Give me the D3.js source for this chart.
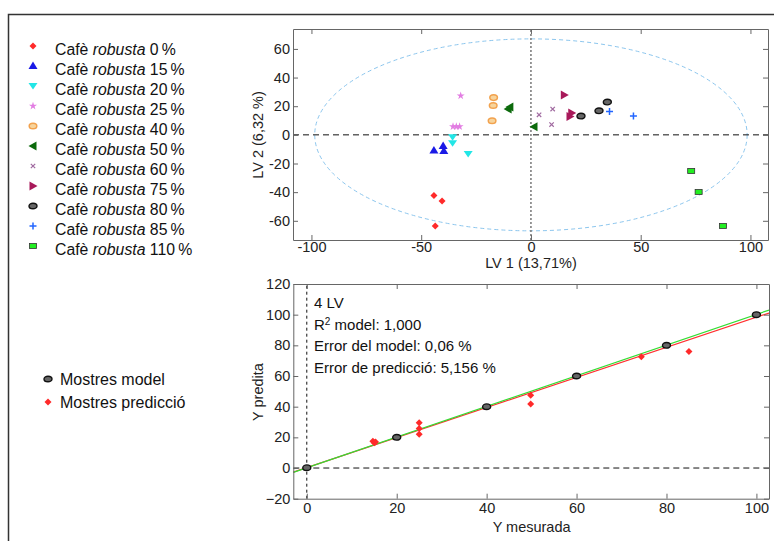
<!DOCTYPE html>
<html>
<head>
<meta charset="utf-8">
<script src="https://cdn.jsdelivr.net/npm/d3@7"></script>
<style>
  body { margin: 0; background: #fff; }
  svg { font-family: "Liberation Sans", Arial, sans-serif; }
</style>
</head>
<body>
<div id="SVG_CONTAINER"></div>
<script>
// groups of the score plot (percentage of robusta)
const groupPct = ["0", "15", "20", "25", "40", "50", "60", "75", "80", "85", "110"];
const groupMarker = ["diamond", "triUp", "triDown", "star", "ring", "triLeft", "cross", "triRight", "ellipse", "plus", "square"];
const groupColor = ["#ff2a2a", "#1a1ae6", "#22e6e6", "#e27de2", "#f2a24e", "#0c6a0c", "#a06aa0", "#a8195a", "#2a2a2a", "#2266ff", "#22ee22"];

// LV1 / LV2 scores, one list per group
const lv1 = [
    [-44.2, -40.5, -43.6],
    [-44.2, -40.0, -39.7],
    [-35.7, -35.7, -28.6],
    [-32.0, -35.5, -34.0, -32.5],
    [-17.0, -17.2, -17.7],
    [-9.6, -10.4, 1.4],
    [3.7, 9.9, 9.4],
    [15.2, 18.6, 17.8],
    [34.8, 31.0, 22.8],
    [35.8, 46.7],
    [73.0, 76.4, 87.5]
];
const lv2 = [
    [-42.4, -46.2, -63.6],
    [-11.0, -7.7, -11.2],
    [-1.6, -5.8, -13.3],
    [27.3, 5.8, 5.8, 5.8],
    [26.0, 20.5, 9.8],
    [19.4, 18.0, 5.6],
    [14.0, 18.0, 7.2],
    [27.8, 15.2, 12.8],
    [22.9, 16.8, 13.1],
    [16.3, 13.1],
    [-25.2, -39.9, -63.6]
];
// confidence ellipse radii (LV1, LV2)
const ellipseR = [98.5, 67];

// prediction plot
const modelMeasured = [0, 20, 40, 60, 80, 100];
const modelPredicted = [0.2, 20, 40, 60, 80, 100];
const predMeasured = [14.7, 15.0, 15.3, 25, 25, 25, 49.8, 49.8, 74.4, 85];
const predPredicted = [17.5, 16.5, 17.0, 29.5, 25.8, 22.1, 47.5, 41.7, 72.5, 76.0];
const fitModel = { slope: 1.0, intercept: 0.2 };   // green
const fitPred = { slope: 0.98, intercept: 0.3 };   // red
const infoLines = ["4 LV", "R2 model: 1,000", "Error del model: 0,06 %", "Error de predicció: 5,156 %"];

const width = 774, height = 541;

const svg = d3.select("#SVG_CONTAINER")
    .append("svg")
    .attr("width", width)
    .attr("height", height);

// outer frame
svg.append("rect")
    .attr("x", 8.5).attr("y", 14.5)
    .attr("width", 800).attr("height", 600)
    .attr("fill", "none")
    .attr("stroke", "#333")
    .attr("stroke-width", 1.5);

// draws one marker of the given type at (cx, cy)
function marker(g, type, color, cx, cy) {
    let s;
    if (type === "diamond") {
        s = g.append("path").attr("d", "M0,-3.5L3.5,0L0,3.5L-3.5,0Z").attr("fill", color);
    } else if (type === "triUp") {
        s = g.append("path").attr("d", "M0,-4.5L4.5,3L-4.5,3Z").attr("fill", color);
    } else if (type === "triDown") {
        s = g.append("path").attr("d", "M0,3.5L4.5,-3L-4.5,-3Z").attr("fill", color);
    } else if (type === "triLeft") {
        s = g.append("path").attr("d", "M-4.5,0L3.5,-4.5L3.5,4.5Z").attr("fill", color);
    } else if (type === "triRight") {
        s = g.append("path").attr("d", "M4.5,0L-3.5,-4.5L-3.5,4.5Z").attr("fill", color);
    } else if (type === "star") {
        s = g.append("path").attr("d", d3.symbol().type(d3.symbolStar).size(20)()).attr("fill", color);
    } else if (type === "ring") {
        s = g.append("ellipse").attr("rx", 3.8).attr("ry", 2.8)
            .attr("fill", "#f7d49c").attr("stroke", color).attr("stroke-width", 1.5);
    } else if (type === "ellipse") {
        s = g.append("ellipse").attr("rx", 4).attr("ry", 2.8)
            .attr("fill", "#666").attr("stroke", "#111").attr("stroke-width", 1.4);
    } else if (type === "cross") {
        s = g.append("path").attr("d", "M-2.2,-2.2L2.2,2.2M-2.2,2.2L2.2,-2.2")
            .attr("stroke", color).attr("stroke-width", 1.2).attr("fill", "none");
    } else if (type === "plus") {
        s = g.append("path").attr("d", "M-3.5,0L3.5,0M0,-3.5L0,3.5")
            .attr("stroke", color).attr("stroke-width", 1.5).attr("fill", "none");
    } else if (type === "square") {
        s = g.append("rect").attr("x", -3.5).attr("y", -2.5).attr("width", 7).attr("height", 5)
            .attr("fill", color).attr("stroke", "#333").attr("stroke-width", 0.8);
    }
    s.attr("transform", "translate(" + cx + "," + cy + ")");
}

// draws a MATLAB style box with inward ticks on every side
function box(g, x, y, xTicks, yTicks, pad, fmt) {
    const [x0, x1] = x.range();
    const [y0, y1] = y.range();
    const tl = 5;
    g.append("g")
        .attr("transform", "translate(0," + y0 + ")")
        .call(d3.axisBottom(x).tickValues(xTicks).tickSizeInner(-tl).tickSizeOuter(0).tickPadding(pad).tickFormat(fmt));
    g.append("g")
        .attr("transform", "translate(0," + y1 + ")")
        .call(d3.axisTop(x).tickValues(xTicks).tickSizeInner(-tl).tickSizeOuter(0).tickFormat(""));
    g.append("g")
        .attr("transform", "translate(" + x0 + ",0)")
        .call(d3.axisLeft(y).tickValues(yTicks).tickSizeInner(-tl).tickSizeOuter(0).tickPadding(3).tickFormat(fmt));
    g.append("g")
        .attr("transform", "translate(" + x1 + ",0)")
        .call(d3.axisRight(y).tickValues(yTicks).tickSizeInner(-tl).tickSizeOuter(0).tickFormat(""));
    g.selectAll(".domain").attr("stroke", "#666");
    g.selectAll(".tick line").attr("stroke", "#666");
    g.selectAll(".tick text")
        .attr("font-size", "14.5px")
        .attr("fill", "#222")
        .attr("font-family", "Liberation Sans, Arial, sans-serif");
}

// ---------- score plot ----------
const xs1 = d3.scaleLinear().domain([-108.4, 108]).range([293, 768]);
const ys1 = d3.scaleLinear().domain([-73.4, 73.9]).range([240, 29]);
const topG = svg.append("g");

topG.append("ellipse")
    .attr("cx", xs1(0)).attr("cy", ys1(0))
    .attr("rx", xs1(ellipseR[0]) - xs1(0))
    .attr("ry", ys1(0) - ys1(ellipseR[1]))
    .attr("fill", "none")
    .attr("stroke", "#8cc6ee")
    .attr("stroke-width", 1)
    .attr("stroke-dasharray", "4,3");

topG.append("line")
    .attr("x1", xs1(0)).attr("x2", xs1(0))
    .attr("y1", ys1.range()[0]).attr("y2", ys1.range()[1])
    .attr("stroke", "#777").attr("stroke-width", 1.5).attr("stroke-dasharray", "2,2");
topG.append("line")
    .attr("x1", xs1.range()[0]).attr("x2", xs1.range()[1])
    .attr("y1", ys1(0)).attr("y2", ys1(0))
    .attr("stroke", "#111").attr("stroke-width", 1).attr("stroke-dasharray", "6,4");

for (let i = 0; i < groupPct.length; i++) {
    for (let j = 0; j < lv1[i].length; j++) {
        marker(topG, groupMarker[i], groupColor[i], xs1(lv1[i][j]), ys1(lv2[i][j]));
    }
}
box(topG, xs1, ys1, [-100, -50, 0, 50, 100], [-60, -40, -20, 0, 20, 40, 60], 2, d => String(d));

topG.append("text")
    .attr("x", xs1(0)).attr("y", 268)
    .attr("text-anchor", "middle")
    .attr("font-size", "14.5px").attr("fill", "#222")
    .text("LV 1 (13,71%)");
topG.append("text")
    .attr("transform", "translate(263,135) rotate(-90)")
    .attr("text-anchor", "middle")
    .attr("font-size", "14.5px").attr("fill", "#222")
    .text("LV 2 (6,32 %)");

// legend of the groups
let yLegend = 49;
for (let i = 0; i < groupPct.length; i++) {
    marker(svg, groupMarker[i], groupColor[i], 33, yLegend - 3);
    const t = svg.append("text")
        .attr("x", 55).attr("y", yLegend + 5.5)
        .attr("font-size", "15.8px").attr("fill", "#111");
    t.append("tspan").text("Cafè ");
    t.append("tspan").attr("font-style", "italic").text("robusta");
    t.append("tspan").text(" " + groupPct[i] + "\u2009%");
    yLegend += 20;
}

// ---------- prediction plot ----------
const xs2 = d3.scaleLinear().domain([-3, 102.8]).range([293.3, 769]);
const ys2 = d3.scaleLinear().domain([-20, 120]).range([498.7, 284]);
const botG = svg.append("g");

botG.append("line")
    .attr("x1", xs2(0)).attr("x2", xs2(0))
    .attr("y1", ys2.range()[0]).attr("y2", ys2.range()[1])
    .attr("stroke", "#111").attr("stroke-width", 1).attr("stroke-dasharray", "3,3");
botG.append("line")
    .attr("x1", xs2.range()[0]).attr("x2", xs2.range()[1])
    .attr("y1", ys2(0)).attr("y2", ys2(0))
    .attr("stroke", "#111").attr("stroke-width", 1).attr("stroke-dasharray", "6,4");

const xd = xs2.domain();
const fitLine = d3.line().x(d => xs2(d[0])).y(d => ys2(d[1]));
botG.append("path")
    .attr("d", fitLine(xd.map(v => [v, fitPred.slope * v + fitPred.intercept])))
    .attr("stroke", "#ff3030").attr("stroke-width", 1.2).attr("fill", "none");
botG.append("path")
    .attr("d", fitLine(xd.map(v => [v, fitModel.slope * v + fitModel.intercept])))
    .attr("stroke", "#33dd33").attr("stroke-width", 1.2).attr("fill", "none");

for (let i = 0; i < predMeasured.length; i++) {
    marker(botG, "diamond", "#ff2a2a", xs2(predMeasured[i]), ys2(predPredicted[i]));
}
for (let i = 0; i < modelMeasured.length; i++) {
    marker(botG, "ellipse", "#222", xs2(modelMeasured[i]), ys2(modelPredicted[i]));
}
box(botG, xs2, ys2, [0, 20, 40, 60, 80, 100], [-20, 0, 20, 40, 60, 80, 100, 120], 4, d3.format("d"));

botG.append("text")
    .attr("x", xs2(50)).attr("y", 532)
    .attr("text-anchor", "middle")
    .attr("font-size", "14.5px").attr("fill", "#222")
    .text("Y mesurada");
botG.append("text")
    .attr("transform", "translate(263,392) rotate(-90)")
    .attr("text-anchor", "middle")
    .attr("font-size", "14.5px").attr("fill", "#222")
    .text("Y predita");

// info text
for (let i = 0; i < infoLines.length; i++) {
    const t = botG.append("text")
        .attr("x", 314).attr("y", 308 + i * 21.7)
        .attr("font-size", "15px").attr("fill", "#111");
    if (i === 1) {
        t.append("tspan").text("R");
        t.append("tspan").attr("font-size", "10px").attr("dy", -5).text("2");
        t.append("tspan").attr("dy", 5).text(" model: 1,000");
    } else {
        t.text(infoLines[i]);
    }
}

// legend of the prediction plot
marker(svg, "ellipse", "#222", 48, 379);
svg.append("text").attr("x", 60).attr("y", 385)
    .attr("font-size", "16px").attr("fill", "#111").text("Mostres model");
marker(svg, "diamond", "#ff2a2a", 48, 402);
svg.append("text").attr("x", 60).attr("y", 408)
    .attr("font-size", "16px").attr("fill", "#111").text("Mostres predicció");
</script>
</body>
</html>
